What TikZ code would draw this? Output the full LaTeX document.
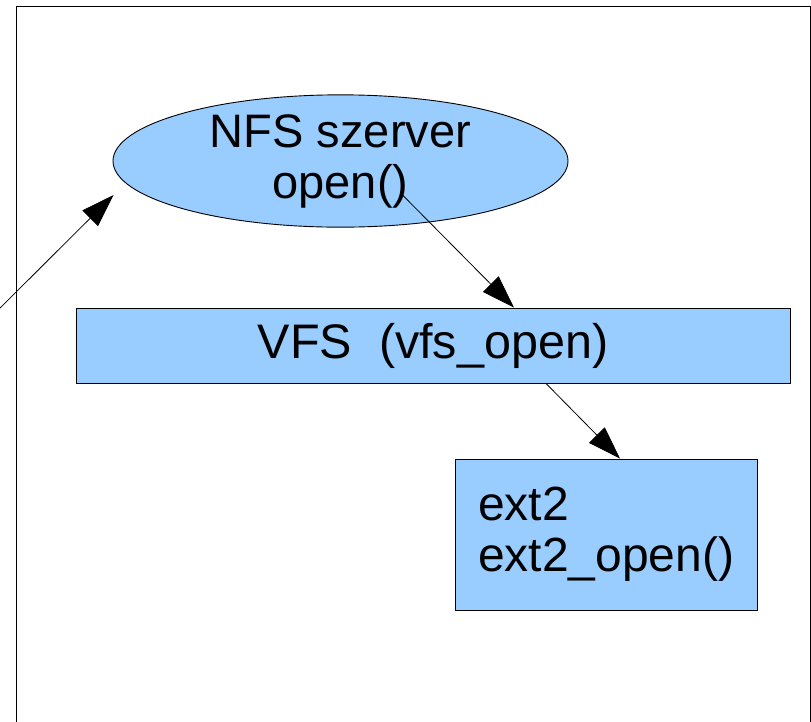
\documentclass[tikz,border=0pt]{standalone}
\usepackage{fontspec}
\setmainfont{Liberation Sans}
\usepackage{tikz}
\usetikzlibrary{arrows.meta,positioning,calc,shapes.geometric}
\usepackage{xcolor}
\definecolor{fsblue}{HTML}{99CCFF}
\tikzset{
  layer/.style   = {draw, line width=0.9pt, fill=fsblue, rectangle, inner sep=0pt},
  server/.style  = {draw, line width=0.9pt, fill=fsblue, ellipse, inner sep=0pt,
                    minimum width=455pt, minimum height=128pt, align=center},
  call/.style    = {-{Triangle[length=33pt, width=22pt]}, line width=0.8pt},
}

\begin{document}
\begin{tikzpicture}[x=1pt, y=-1pt, font=\fontsize{47pt}{51pt}\selectfont]
\useasboundingbox (0,0) rectangle (811,721);
% ---- frame ----
\draw[line width=1pt] (16,730) -- (16,6) -- (810,6) -- (810,730);
% ---- NFS server ----
\node[server] (nfs) at (340.5,161) {NFS szerver\\open()};
% ---- VFS layer ----
\node[layer, minimum width=714pt, minimum height=75pt,
      font=\fontsize{48.5pt}{52pt}\selectfont] (vfs) at (433,345.5)
     {VFS\ \ (vfs\_open)};
% ---- ext2 ----
\node[layer, minimum height=151pt, text width=256pt, inner xsep=23pt,
      align=left, font=\fontsize{48pt}{51pt}\selectfont] (ext) at (606,534.5)
     {ext2\\ext2\_open()};
% ---- calls ----
\coordinate (client) at (-12,320);
\coordinate (nfsin) at ($(nfs.west)+(1,34)$);
\draw[call] (client) -- (nfsin);
\draw[call] ($(nfs.center)+(62,34)$) -- ($(vfs.north)+(81,0)$);
\draw[call] ($(vfs.south)+(113,0)$) -- ($(ext.north)+(14,0)$);
\end{tikzpicture}
\end{document}
